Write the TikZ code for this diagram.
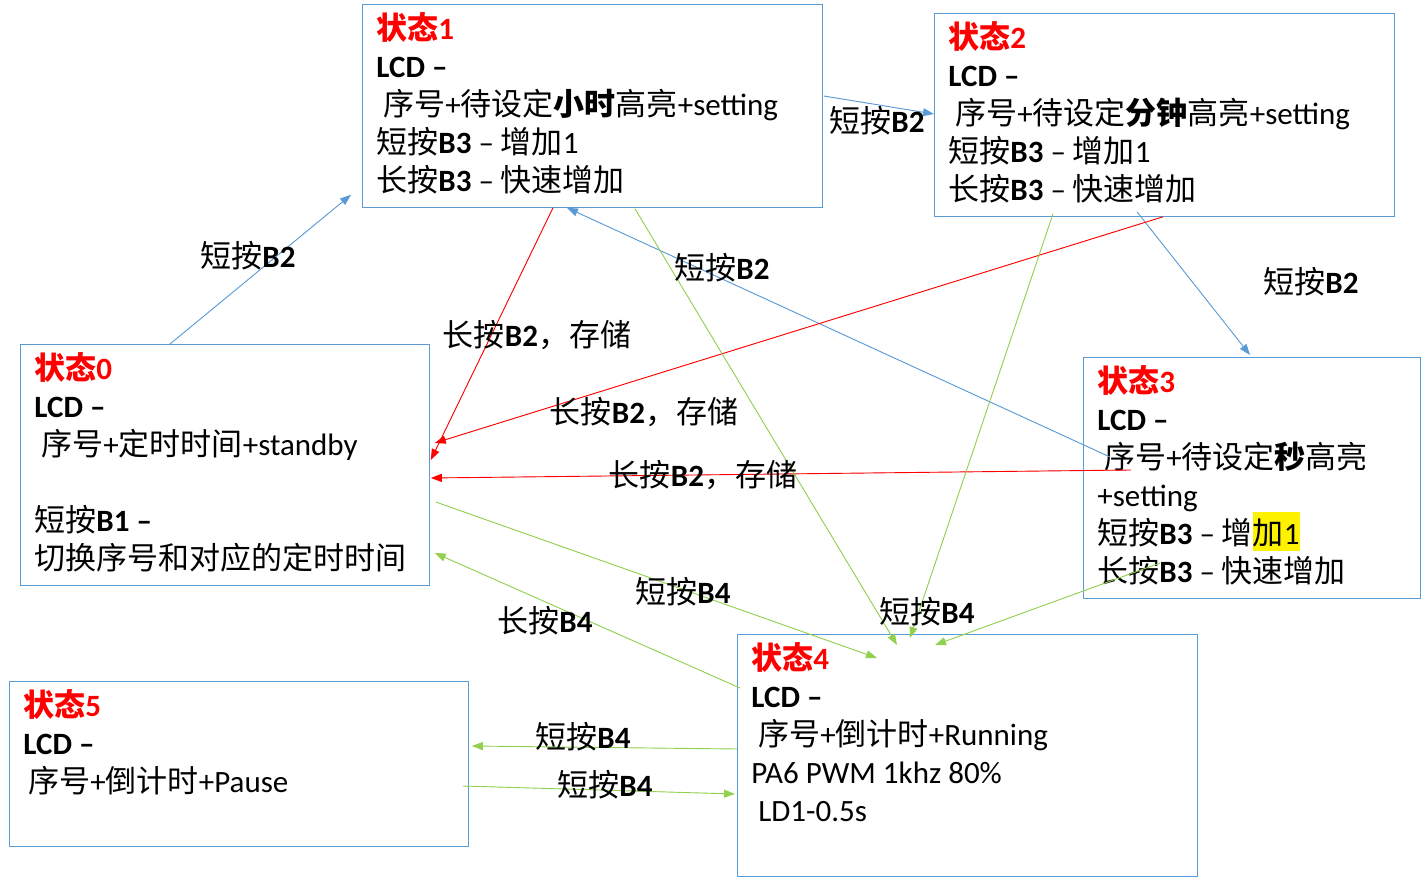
\documentclass[tikz,border=0pt]{standalone}
\usepackage{fontspec}
\usepackage{xcolor}
\setmainfont{Carlito}
\newfontfamily\cjk{Noto Sans CJK SC}
\usetikzlibrary{arrows.meta,positioning}
\definecolor{boxblue}{HTML}{5B9BD5}
\definecolor{linered}{HTML}{FF0000}
\definecolor{linegreen}{HTML}{92D050}
\newcommand{\zh}[1]{{\cjk #1}}
\newcommand{\statename}[1]{{\color{red}\bfseries{\cjk 状态}#1}}
\tikzset{
	state/.style={draw=boxblue, line width=0.8pt, anchor=north west,
			inner xsep=14pt, inner ysep=8pt, font=\fontsize{31}{38}\selectfont},
	lbl/.style={inner sep=0pt, font=\fontsize{31}{38}\selectfont},
	arr/.style={line width=0.9pt, -{Triangle[length=11pt,width=8pt]}},
	bluearr/.style={arr, draw=boxblue, fill=boxblue},
	redarr/.style={arr, draw=linered, fill=linered},
	greenarr/.style={arr, draw=linegreen, fill=linegreen}
}

\begin{document}
\begin{tikzpicture}[x=1pt, y=-1pt]
	\useasboundingbox (0,0) rectangle (1428,882);
	% states
	\node[state] (s1) at (362,4) {\parbox[c][187pt][t]{432pt}{%
			\statename{1}\\
			\textbf{LCD –}\\
			\hspace*{7pt}\zh{序号}+\zh{待设定{\bfseries 小时}高亮}+setting\\
			\zh{短按}\textbf{B3} – \zh{增加}1\\
			\zh{长按}\textbf{B3} – \zh{快速增加}}};
	\node[state] (s2) at (934,13) {\parbox[c][187pt][t]{432pt}{%
			\statename{2}\\
			\textbf{LCD –}\\
			\hspace*{7pt}\zh{序号}+\zh{待设定{\bfseries 分钟}高亮}+setting\\
			\zh{短按}\textbf{B3} – \zh{增加}1\\
			\zh{长按}\textbf{B3} – \zh{快速增加}}};
	\node[state] (s0) at (20,344) {\parbox[c][225pt][t]{381pt}{%
			\statename{0}\\
			\textbf{LCD –}\\
			\hspace*{7pt}\zh{序号}+\zh{定时时间}+standby\\[38pt]
			\zh{短按}\textbf{B1 –}\\
			\zh{切换序号和对应的定时时间}}};
	\node[state] (s3) at (1083,357) {\parbox[c][225pt][t]{309pt}{%
			\statename{3}\\
			\textbf{LCD –}\\
			\hspace*{7pt}\zh{序号}+\zh{待设定{\bfseries 秒}高亮}\\
			+setting\\
			\zh{短按}\textbf{B3} – \zh{增}{\fboxsep=0pt\colorbox{yellow}{\rule[-7pt]{0pt}{39pt}\zh{加}1}}\\
			\zh{长按}\textbf{B3} – \zh{快速增加}}};
	\node[state] (s4) at (737,634) {\parbox[c][226pt][t]{432pt}{%
			\statename{4}\\
			\textbf{LCD –}\\
			\hspace*{7pt}\zh{序号}+\zh{倒计时}+Running\\
			PA6 PWM 1khz 80\%\\
			\hspace*{7pt}LD1-0.5s}};
	\node[state] (s5) at (9,681) {\parbox[c][149pt][t]{431pt}{%
			\statename{5}\\
			\textbf{LCD –}\\
			\hspace*{5pt}\zh{序号}+\zh{倒计时}+Pause}};

	% short B2: next field
	\draw[bluearr] ([xshift=150pt]s0.north west) -- ([xshift=-11pt,yshift=13pt]s1.south west);
	\draw[bluearr] ([xshift=1pt,yshift=-92pt]s1.north east) -- ([yshift=-101pt]s2.north west);
	\draw[bluearr] ([xshift=203pt,yshift=5pt]s2.south west) -- ([xshift=167pt,yshift=2pt]s3.north west);
	\draw[bluearr] ([xshift=27pt,yshift=-100pt]s3.north west) -- ([xshift=205pt]s1.south west);
	% long B2: save
	\draw[redarr] ([xshift=191pt]s1.south west) -- ([xshift=1pt,yshift=-116pt]s0.north east);
	\draw[redarr] ([xshift=229pt]s2.south west) -- ([xshift=5pt,yshift=-99pt]s0.north east);
	\draw[redarr] ([xshift=48pt,yshift=-113pt]s3.north west) -- ([xshift=1pt,yshift=-134pt]s0.north east);
	% B4: run / pause
	\draw[greenarr] ([xshift=6pt,yshift=-158pt]s0.north east) -- ([xshift=140pt,yshift=-24pt]s4.north west);
	\draw[greenarr] ([xshift=3pt,yshift=-54pt]s4.north west) -- ([xshift=5pt,yshift=-209pt]s0.north east);
	\draw[greenarr] ([xshift=273pt,yshift=-1pt]s1.south west) -- ([xshift=160pt,yshift=-11pt]s4.north west);
	\draw[greenarr] ([xshift=119pt,yshift=3pt]s2.south west) -- ([xshift=173pt,yshift=-4pt]s4.north west);
	\draw[greenarr] ([xshift=77pt,yshift=-206pt]s3.north west) -- ([xshift=198pt,yshift=-11pt]s4.north west);
	\draw[greenarr] ([yshift=-115pt]s4.north west) -- ([xshift=3pt,yshift=-65pt]s5.north east);
	\draw[greenarr] ([xshift=-6pt,yshift=-105pt]s5.north east) -- ([xshift=-2pt,yshift=-160pt]s4.north west);

	% labels
	\node[lbl] (b2a) at (248,256) {\zh{短按}\textbf{B2}};
	\node[lbl] (b2b) at (877,121) {\zh{短按}\textbf{B2}};
	\node[lbl] (b2c) at (1311,282) {\zh{短按}\textbf{B2}};
	\node[lbl] (b2d) at (722,268) {\zh{短按}\textbf{B2}};
	\node[lbl] (svA) at (537,335) {\zh{长按}\textbf{B2}\zh{，存储}};
	\node[lbl] (svB) at (644,412) {\zh{长按}\textbf{B2}\zh{，存储}};
	\node[lbl] (svC) at (703,475) {\zh{长按}\textbf{B2}\zh{，存储}};
	\node[lbl] (b4a) at (683,592) {\zh{短按}\textbf{B4}};
	\node[lbl] (b4b) at (927,612) {\zh{短按}\textbf{B4}};
	\node[lbl] (b4c) at (583,737) {\zh{短按}\textbf{B4}};
	\node[lbl] (b4d) at (605,785) {\zh{短按}\textbf{B4}};
	\node[lbl] (lb4) at (545,621) {\zh{长按}\textbf{B4}};
\end{tikzpicture}
\end{document}
